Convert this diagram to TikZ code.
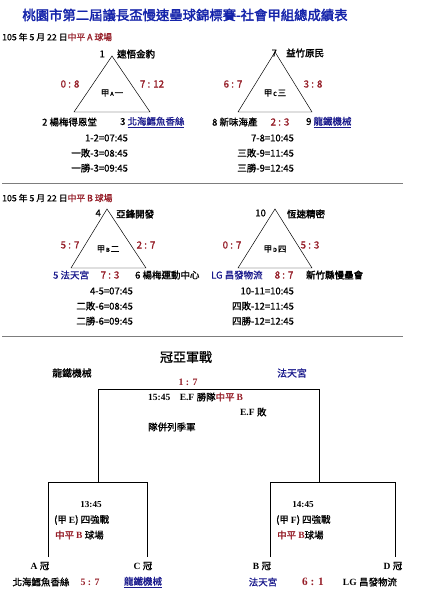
\documentclass[tikz,border=0pt]{standalone}
\usepackage{fontspec}
\setmainfont{Noto Sans CJK TC}[AutoFakeBold=1.0]
\newfontfamily\heavy{Noto Sans CJK TC}[AutoFakeBold=2.2]
\newfontfamily\srf{Liberation Serif}
\usepackage{xcolor}
\usepackage{tikz}
\usetikzlibrary{positioning}
\definecolor{zw}{RGB}{0,0,0}
\definecolor{bl}{RGB}{25,25,140}
\definecolor{rd}{RGB}{150,30,40}
\definecolor{tt}{RGB}{20,35,170}
\definecolor{gy}{RGB}{125,125,125}
\newcommand{\BL}[1]{\textcolor{bl}{#1}}
\newcommand{\RD}[1]{\textcolor{rd}{#1}}
\newcommand{\fsz}[1]{\fontsize{#1}{#1}\selectfont}

\begin{document}
\begin{tikzpicture}[x=0.5mm,y=-0.5mm,
    every node/.style={inner sep=0pt,font=\fsz{13.5}\bfseries},
    lw/.style={anchor=west},
    le/.style={anchor=east},
    score/.style={font=\fsz{14}\bfseries,text=rd},
    tri/.style={line width=0.7pt},
    sep/.style={gy,line width=0.8pt},
    brk/.style={line width=0.8pt}]
  \useasboundingbox[fill=white] (0,0) rectangle (427,600);

  \node[font=\fsz{19}\heavy\bfseries,text=tt] (title) at (185,15) {桃園市第二屆議長盃慢速壘球錦標賽-社會甲組總成績表};

  % field A
  \node[lw,font=\fsz{12.5}\bfseries] (dateA) at (2,37) {105 年 5 月 22 日\RD{中平 A 球場}};

  \coordinate (a1) at (112,56);
  \coordinate (a2) at (74,112);
  \coordinate (a3) at (150,112);
  \draw[tri] (a1) -- (a2) -- (a3) -- cycle;
  \node[le] (nA1) at (105,54) {1};
  \node[lw,font=\fsz{13.5}\heavy\bfseries] (tA1) at (117,54) {速悟金豹};
  \node[score] (sA12) at (70,84) {0 : 8};
  \node[score] (sA13) at (152,84) {7 : 12};
  \node[font=\fsz{12}\bfseries] (gA) at (112,93) {甲{\fsz{8}\,A\,}一};
  \node[lw] (tA2) at (42,122) {2 楊梅得恩堂};
  \node[lw] (tA3) at (120,122) {3 \BL{\underline{北海鱈魚香絲}}};
  \node[le] (mA1) at (128,138) {1-2=07:45};
  \node[le] (mA2) at (128,153) {一敗-3=08:45};
  \node[le] (mA3) at (128,168) {一勝-3=09:45};

  \coordinate (c1) at (275,52);
  \coordinate (c2) at (238,112);
  \coordinate (c3) at (312,112);
  \draw[tri] (c1) -- (c2) -- (c3) -- cycle;
  \node[le] (nC1) at (277,53) {7};
  \node[lw,font=\fsz{13.5}\heavy\bfseries] (tC1) at (286,53) {益竹原民};
  \node[score] (sC12) at (233,84) {6 : 7};
  \node[score] (sC13) at (313,84) {3 : 8};
  \node[font=\fsz{12}\bfseries] (gC) at (275,93) {甲{\fsz{8}\,C\,}三};
  \node[lw] (tC2) at (212,122) {8 新味海產};
  \node[score] (sC23) at (280,122) {2 : 3};
  \node[lw] (tC3) at (306,122) {9 \BL{\underline{龍鐵機械}}};
  \node[le] (mC1) at (294,138) {7-8=10:45};
  \node[le] (mC2) at (294,153) {三敗-9=11:45};
  \node[le] (mC3) at (294,168) {三勝-9=12:45};

  \coordinate (s1l) at (2,183);
  \coordinate (s1r) at (403,183);
  \draw[sep] (s1l) -- (s1r);

  % field B
  \node[lw,font=\fsz{12.5}\bfseries] (dateB) at (2,198) {105 年 5 月 22 日\RD{中平 B 球場}};

  \coordinate (b1) at (107,209);
  \coordinate (b2) at (71,268);
  \coordinate (b3) at (146,268);
  \draw[tri] (b1) -- (b2) -- (b3) -- cycle;
  \node[le] (nB1) at (101,213) {4};
  \node[lw,font=\fsz{13.5}\heavy\bfseries] (tB1) at (116,214) {亞鋒開發};
  \node[score] (sB12) at (70,245) {5 : 7};
  \node[score] (sB13) at (146,245) {2 : 7};
  \node[font=\fsz{12}\bfseries] (gB) at (108,249) {甲{\fsz{8}\,B\,}二};
  \node[lw] (tB2) at (53,275) {\BL{5 法天宮}};
  \node[score] (sB23) at (110,275) {7 : 3};
  \node[lw] (tB3) at (135,275) {6 楊梅運動中心};
  \node[le] (mB1) at (133,291) {4-5=07:45};
  \node[le] (mB2) at (133,306) {二敗-6=08:45};
  \node[le] (mB3) at (133,321) {二勝-6=09:45};

  \coordinate (d1) at (275,209);
  \coordinate (d2) at (238,268);
  \coordinate (d3) at (312,268);
  \draw[tri] (d1) -- (d2) -- (d3) -- cycle;
  \node[le] (nD1) at (266,213) {10};
  \node[lw,font=\fsz{13.5}\heavy\bfseries] (tD1) at (287,214) {恆速精密};
  \node[score] (sD12) at (232,245) {0 : 7};
  \node[score] (sD13) at (310,245) {5 : 3};
  \node[font=\fsz{12}\bfseries] (gD) at (275,249) {甲{\fsz{8}\,D\,}四};
  \node[lw] (tD2) at (211,275) {\BL{LG 昌發物流}};
  \node[score] (sD23) at (284,275) {8 : 7};
  \node[lw,font=\fsz{13.5}\heavy\bfseries] (tD3) at (306,275) {新竹縣慢壘會};
  \node[le] (mD1) at (294,291) {10-11=10:45};
  \node[le] (mD2) at (294,306) {四敗-12=11:45};
  \node[le] (mD3) at (294,321) {四勝-12=12:45};

  \coordinate (s2l) at (2,336);
  \coordinate (s2r) at (403,336);
  \draw[sep] (s2l) -- (s2r);

  % final
  \node[font=\fsz{18.5}\bfseries] (fin) at (186,357) {冠亞軍戰};
  \node[font=\fsz{14}\bfseries] (fL) at (72,373) {龍鐵機械};
  \node[font=\fsz{14}\bfseries] (fR) at (292,373) {\BL{法天宮}};
  \node[font=\fsz{14}\srf\bfseries,text=rd] (fS) at (188,382) {1 : 7};

  \coordinate (k1) at (98,482);
  \coordinate (k2) at (98,389);
  \coordinate (k3) at (319,389);
  \coordinate (k4) at (319,482);
  \draw[brk] (k1) -- (k2) -- (k3) -- (k4);
  \node[lw] (f1) at (148,397) {{\srf\bfseries 15:45\quad E.F }勝隊\RD{中平 {\srf B}}};
  \node[lw] (f2) at (240,412) {{\srf\bfseries E.F }敗};
  \node[lw] (f3) at (148,427) {隊併列季軍};

  \coordinate (e1) at (48,557);
  \coordinate (e2) at (48,482);
  \coordinate (e3) at (147,482);
  \coordinate (e4) at (147,557);
  \draw[brk] (e1) -- (e2) -- (e3) -- (e4);
  \node[font=\fsz{13}\srf\bfseries] (eT) at (91,505) {13:45};
  \node[lw] (eG) at (54,520) {(甲 {\srf E}) 四強戰};
  \node[lw] (eF) at (55,535) {\RD{中平 {\srf B}} 球場};
  \node (eA) at (40,566) {{\srf\bfseries A }冠};
  \node (eC) at (143,566) {{\srf\bfseries C }冠};
  \node (eA1) at (41,582) {北海鱈魚香絲};
  \node[font=\fsz{14}\srf\bfseries,text=rd] (eS) at (90,582) {5 : 7};
  \node (eC1) at (143,582) {\BL{\underline{龍鐵機械}}};

  \coordinate (g1) at (270,557);
  \coordinate (g2) at (270,482);
  \coordinate (g3) at (395,482);
  \coordinate (g4) at (395,557);
  \draw[brk] (g1) -- (g2) -- (g3) -- (g4);
  \node[font=\fsz{13}\srf\bfseries] (gT) at (303,505) {14:45};
  \node[lw] (gG) at (276,520) {(甲 {\srf F}) 四強戰};
  \node[lw] (gF) at (277,535) {\RD{中平 {\srf B}}球場};
  \node (gB) at (262,566) {{\srf\bfseries B }冠};
  \node (gD) at (393,566) {{\srf\bfseries D }冠};
  \node (gB1) at (263,582) {\BL{法天宮}};
  \node[font=\fsz{16}\srf\bfseries,text=rd] (gS) at (313,582) {6 : 1};
  \node (gD1) at (370,582) {{\srf LG }昌發物流};
\end{tikzpicture}
\end{document}
